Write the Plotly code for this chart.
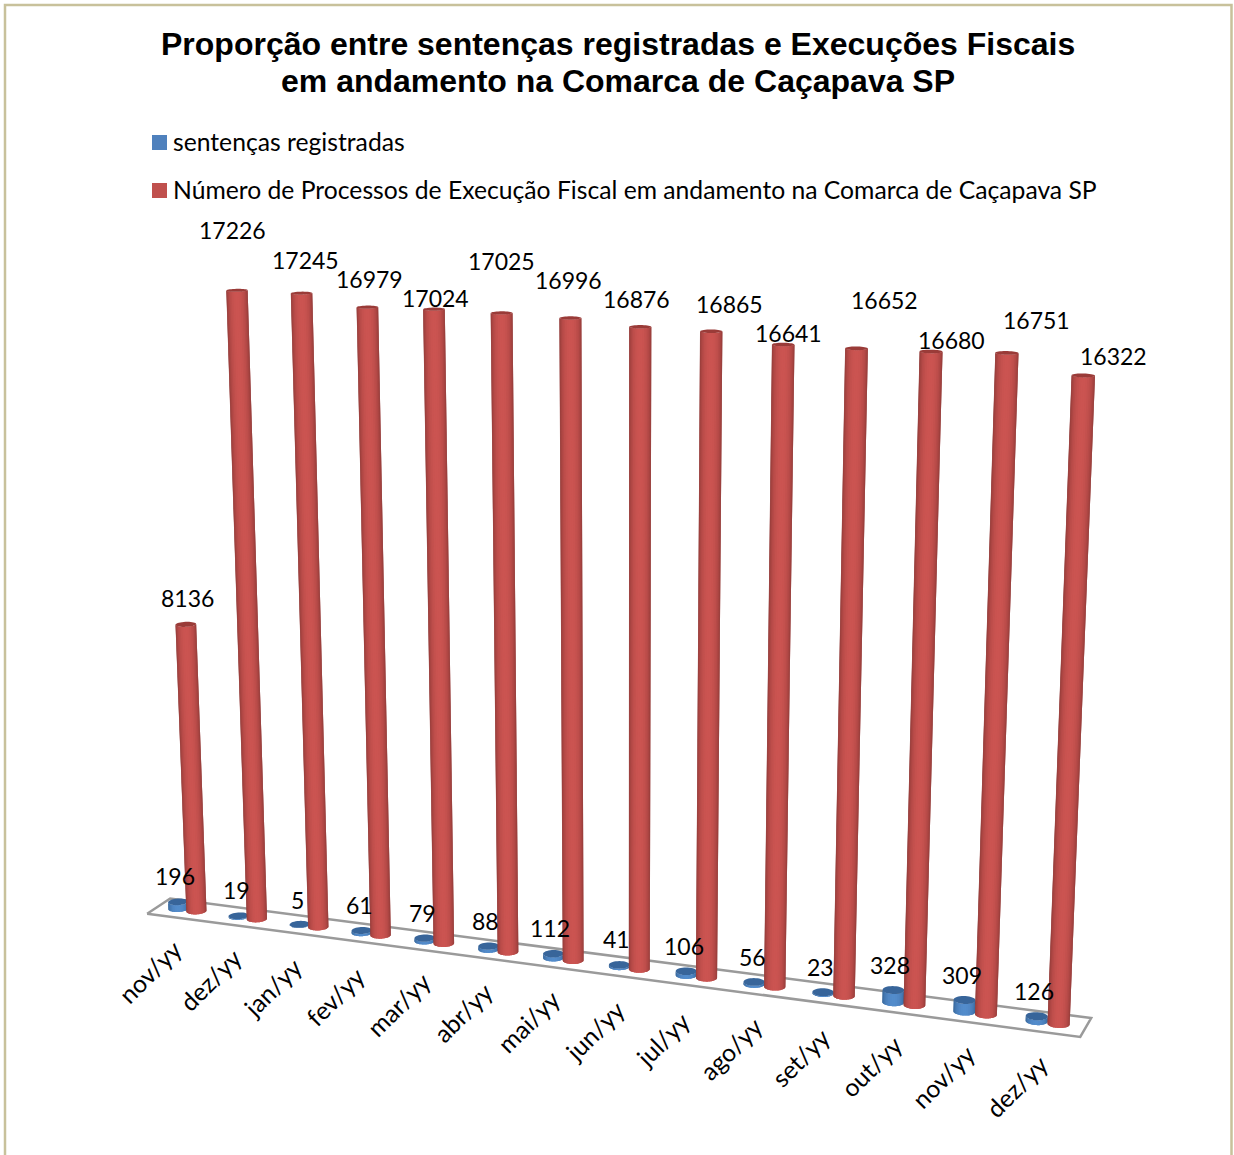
import numpy as np
import plotly.graph_objects as go

categories = ["nov/yy","dez/yy","jan/yy","fev/yy","mar/yy","abr/yy","mai/yy","jun/yy","jul/yy","ago/yy","set/yy","out/yy","nov/yy","dez/yy"]
sentencas = [196,19,5,61,79,88,112,41,106,56,23,328,309,126]
execucoes = [8136,17226,17245,16979,17024,17025,16996,16876,16865,16641,16652,16680,16751,16322]

# Oblique view: (category, depth, thousands of cases) -> drawing position
CAMERA = np.array([
    [58.622544, 12.711353, -1.854, 196.3983],
    [1.2373686, -1.127883, -37.09, 910.98286],
    [-0.0072719165, 0.0071638862, -0.002977, 1.0],
])

def project(x, y, v):
    x = np.asarray(x, float)
    y = np.asarray(y, float)
    z = np.asarray(v, float) / 1000
    h = CAMERA @ np.vstack([x, y, z, np.ones_like(x)])
    return h[0] / h[2], h[1] / h[2]

BLUE_OFFSET = -0.30
RED_OFFSET = 0.0
RX = 0.148
RY = 0.42
STRIPS = 18
RED_SHADES = [(0.55, 0.22, 0.21), (0.80, 0.33, 0.32)]
BLUE_SHADES = [(0.20, 0.38, 0.58), (0.33, 0.55, 0.80)]

def mix(pair, t):
    a, b = pair
    return "rgb(%d,%d,%d)" % tuple(255 * (a[k] + (b[k] - a[k]) * t) for k in range(3))

def cylinder_paths(cx, value):
    # Sweep the visible half of the base ellipse, between its projected extremes
    th = np.radians(np.arange(0, 360, 2.0))
    ex, _ = project(cx + RX * np.cos(th), RY * np.sin(th), np.zeros_like(th))
    left = th[np.argmin(ex)]
    right = th[np.argmax(ex)]
    if right < left:
        right += 2 * np.pi
    edges = np.linspace(left, right, STRIPS + 1)
    strips = []
    for k in range(STRIPS):
        # each strip runs under the next one so no seams show
        a, b = edges[k], edges[min(k + 2, STRIPS)]
        ang = np.concatenate([np.linspace(a, b, 5), np.linspace(b, a, 5), [a]])
        val = np.concatenate([np.zeros(5), np.full(5, value), [0.0]])
        strips.append(project(cx + RX * np.cos(ang), RY * np.sin(ang), val))
    th2 = np.radians(np.arange(0, 361, 10.0))
    cap = project(cx + RX * np.cos(th2), RY * np.sin(th2), np.full_like(th2, value))
    return strips, cap

fig = go.Figure()

# Floor plate
fx, fy = project([-0.63, 13.37, 13.37, -0.63, -0.63], [-1, -1, 1, 1, -1], [0] * 5)
fig.add_trace(go.Scatter(x=fx, y=fy, mode="lines", fill="toself", fillcolor="#ffffff",
                         line=dict(color="#9a9a9a", width=2.5), hoverinfo="skip"))

def add_poly(px, py, color):
    fig.add_trace(go.Scatter(x=px, y=py, mode="none", fill="toself", fillcolor=color, hoverinfo="skip"))

# Cylinders, back to front
for i in range(len(categories)):
    for off, val, shades, cap_color in [
        (BLUE_OFFSET, sentencas[i], BLUE_SHADES, "#38659a"),
        (RED_OFFSET, execucoes[i], RED_SHADES, "#9a3b38"),
    ]:
        strips, cap = cylinder_paths(i + off, val)
        for k, (px, py) in enumerate(strips):
            t = np.sin(np.pi * (k + 0.5) / STRIPS) ** 1.2
            add_poly(px, py, mix(shades, t))
        add_poly(cap[0], cap[1], cap_color)

# Where each value label sits
blue_label_px = [(175,876),(236,890),(297,900),(359,905),(422,913),(485,921),(550,928),(616,939),(684,946),(752,957),(820,967),(890,965),(962,975),(1034,991)]
red_label_px = [(187,598),(232,230),(305,260),(369,279),(435,298),(501,261),(568,280),(636,299),(729,304),(788,333),(884,300),(951,340),(1036,320),(1113,356)]

VALUE_FONT = dict(family="Lato", size=23, color="#000000")
TEXT_FONT = dict(family="Lato", size=24.7, color="#000000")
TITLE_FONT = dict(family="Liberation Sans", size=32, color="#000000")

ann = []
for val, (x, y) in list(zip(sentencas, blue_label_px)) + list(zip(execucoes, red_label_px)):
    ann.append(dict(x=x, y=y, text=str(val), showarrow=False, font=VALUE_FONT, xanchor="center", yanchor="middle"))
for i, c in enumerate(categories):
    x, y = project([i - 0.13], [-1], [0])
    ann.append(dict(x=float(x[0]) - 27, y=float(y[0]) + 54, text=c, textangle=-45, showarrow=False,
                    font=TEXT_FONT, xanchor="center", yanchor="middle"))

ann.append(dict(x=618, y=44, text="<b>Proporção entre sentenças registradas e Execuções Fiscais</b>", showarrow=False, font=TITLE_FONT))
ann.append(dict(x=618, y=81, text="<b>em andamento na Comarca de Caçapava SP</b>", showarrow=False, font=TITLE_FONT))
ann.append(dict(x=171, y=141, text="sentenças registradas", showarrow=False, font=TEXT_FONT, xanchor="left"))
ann.append(dict(x=171, y=189, text="Número de Processos de Execução Fiscal em andamento na Comarca de Caçapava SP",
                showarrow=False, font=TEXT_FONT, xanchor="left"))

shapes = [
    dict(type="rect", x0=5, y0=5, x1=1231.5, y1=1180, line=dict(color="#c8c19b", width=2.5)),
    dict(type="rect", x0=152, y0=135, x1=167, y1=150, fillcolor="#4f81bd", line=dict(width=0)),
    dict(type="rect", x0=152, y0=183, x1=167, y1=198, fillcolor="#c0504d", line=dict(width=0)),
]

fig.update_layout(
    width=1234, height=1155, margin=dict(l=0, r=0, t=0, b=0),
    paper_bgcolor="#ffffff", plot_bgcolor="#ffffff", showlegend=False,
    xaxis=dict(range=[0, 1234], visible=False),
    yaxis=dict(range=[1155, 0], visible=False),
    annotations=ann, shapes=shapes,
)
fig.write_html("out.html")
